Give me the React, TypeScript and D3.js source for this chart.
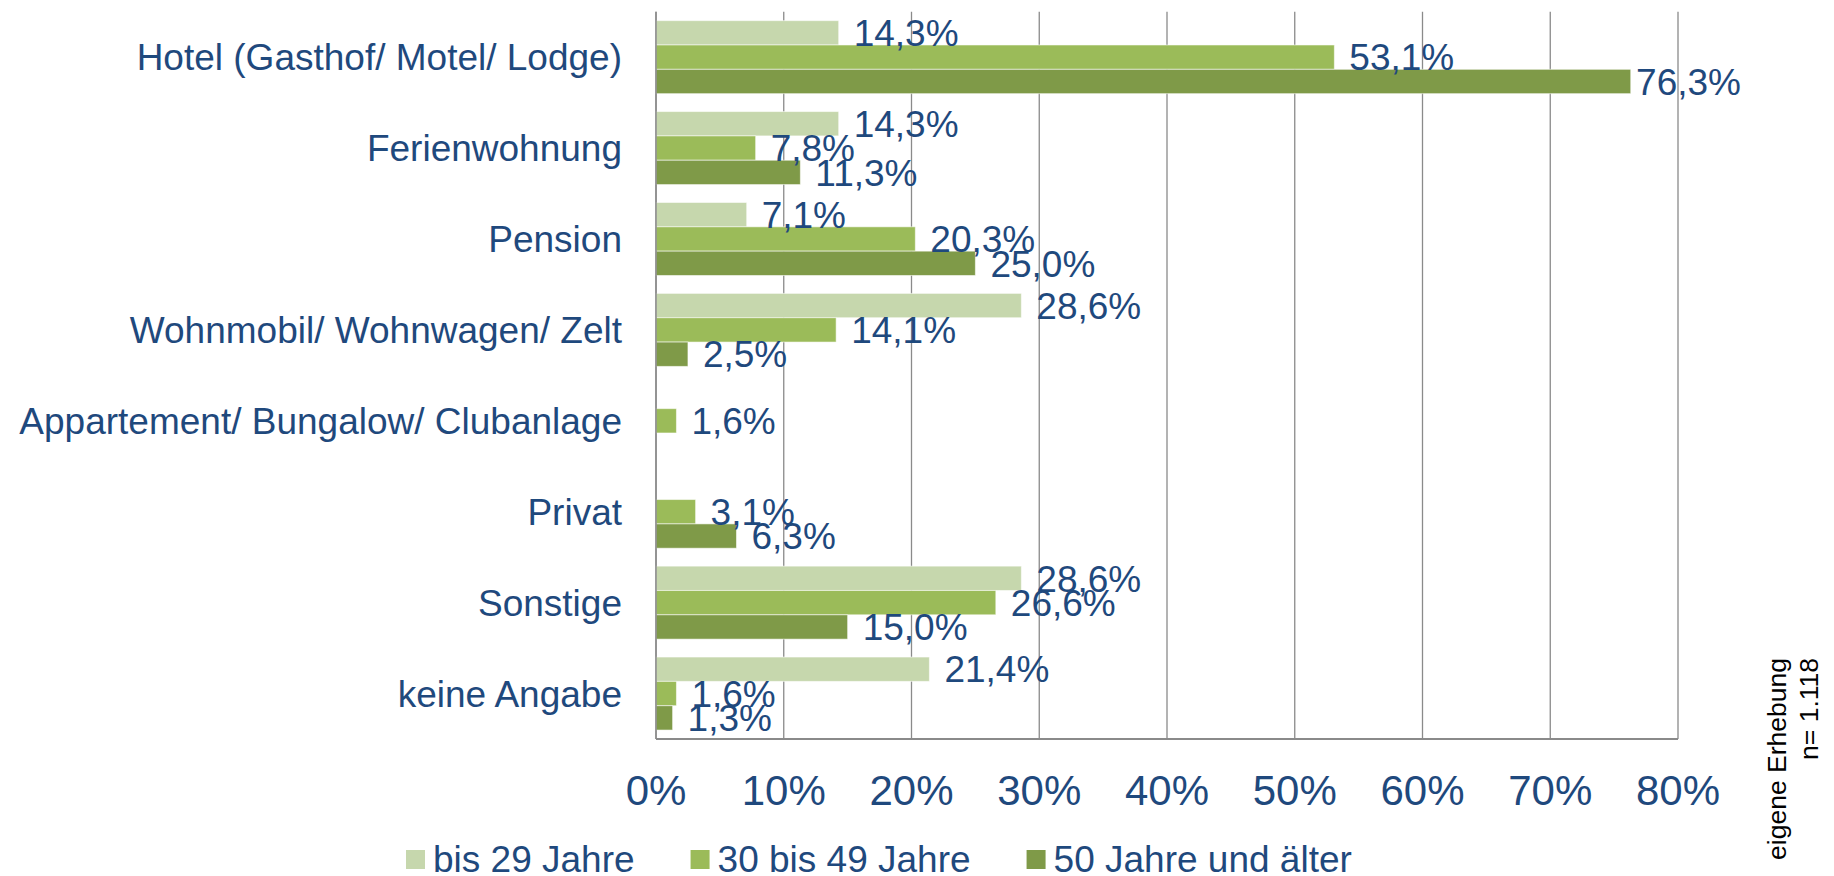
import React from "react";
import * as d3 from "d3";

const categories = [
  "Hotel (Gasthof/ Motel/ Lodge)",
  "Ferienwohnung",
  "Pension",
  "Wohnmobil/ Wohnwagen/ Zelt",
  "Appartement/ Bungalow/ Clubanlage",
  "Privat",
  "Sonstige",
  "keine Angabe",
];
const seriesNames = ["bis 29 Jahre", "30 bis 49 Jahre", "50 Jahre und älter"];
const bis29 = [14.3, 14.3, 7.1, 28.6, 0, 0, 28.6, 21.4];
const mid3049 = [53.1, 7.8, 20.3, 14.1, 1.6, 3.1, 26.6, 1.6];
const ab50 = [76.3, 11.3, 25.0, 2.5, 0, 6.3, 15.0, 1.3];
const xTicks = [0, 10, 20, 30, 40, 50, 60, 70, 80];
const noteLines = ["eigene Erhebung", "n= 1.118"];

const seriesValues = [bis29, mid3049, ab50];
const colors = ["#C6D7AD", "#9BBB59", "#7F9A48"];
const textColor = "#1F497D";
const gridColor = "#8A8A8A";
const FONT = "'Liberation Sans', Arial, Helvetica, sans-serif";

const W = 1834;
const H = 876;
const plot = { left: 656, right: 1678, top: 11.7, bottom: 739 };
const chartRight = 1741;

let _ctx: CanvasRenderingContext2D | null = null;
function measure(text: string, size: number): number {
  if (!_ctx) {
    const c = document.createElement("canvas");
    _ctx = c.getContext("2d");
  }
  if (!_ctx) return text.length * size * 0.55;
  _ctx.font = `${size}px 'Liberation Sans', Arial, sans-serif`;
  return _ctx.measureText(text).width;
}

const fmt = (v: number) => v.toFixed(1).replace(".", ",") + "%";

export default function App() {
  const x = d3.scaleLinear().domain([0, 80]).range([plot.left, plot.right]);
  const y = d3.scaleBand<string>().domain(categories).range([plot.top, plot.bottom]).padding(0);
  const inner = d3
    .scaleBand<number>()
    .domain([0, 1, 2])
    .range([0, y.bandwidth()])
    .paddingInner(0)
    .paddingOuter(0.368);

  const labelSize = 37;
  const catSize = 37;
  const tickSize = 42;
  const legendSize = 37;
  const noteSize = 26.5;

  // legend layout
  const legendStart = 406;
  const sq = 19;
  const legendItems: { sx: number; tx: number; name: string; color: string }[] = [];
  let cx = legendStart;
  seriesNames.forEach((name, i) => {
    legendItems.push({ sx: cx, tx: cx + 27, name, color: colors[i] });
    cx = cx + 27 + measure(name, legendSize) + 56;
  });

  return (
    <svg
      width={W}
      height={H}
      style={{ position: "absolute", left: 0, top: 0, background: "#fff" }}
      fontFamily={FONT}
    >
      <rect x={0} y={0} width={W} height={H} fill="#fff" />
      {/* gridlines */}
      {xTicks.map((t) => (
        <line
          key={"g" + t}
          x1={x(t)}
          x2={x(t)}
          y1={plot.top}
          y2={plot.bottom}
          stroke={gridColor}
          strokeWidth={1.3}
        />
      ))}
      {/* bars */}
      {categories.map((c, ci) =>
        seriesValues.map((vals, si) => {
          const v = vals[ci];
          if (!v) return null;
          const y0 = (y(c) as number) + (inner(si) as number);
          return (
            <rect
              key={`b${ci}-${si}`}
              x={x(0)}
              y={y0}
              width={x(v) - x(0)}
              height={inner.bandwidth()}
              fill={colors[si]}
              stroke="#ffffff"
              strokeOpacity={0.55}
              strokeWidth={1}
            />
          );
        })
      )}
      {/* axes */}
      <line x1={plot.left} x2={plot.left} y1={plot.top} y2={plot.bottom} stroke={gridColor} strokeWidth={1.5} />
      <line x1={plot.left} x2={plot.right} y1={plot.bottom} y2={plot.bottom} stroke={gridColor} strokeWidth={2} />
      {/* data labels */}
      {categories.map((c, ci) =>
        seriesValues.map((vals, si) => {
          const v = vals[ci];
          if (!v) return null;
          const label = fmt(v);
          const w = measure(label, labelSize);
          const lx = Math.min(x(v) + 15, chartRight - w);
          const cy = (y(c) as number) + (inner(si) as number) + inner.bandwidth() / 2;
          return (
            <text
              key={`l${ci}-${si}`}
              x={lx}
              y={cy + labelSize * 0.358}
              fontSize={labelSize}
              fill={textColor}
            >
              {label}
            </text>
          );
        })
      )}
      {/* category labels */}
      {categories.map((c) => (
        <text
          key={"c" + c}
          x={622}
          y={(y(c) as number) + y.bandwidth() / 2 + catSize * 0.358}
          fontSize={catSize}
          fill={textColor}
          textAnchor="end"
        >
          {c}
        </text>
      ))}
      {/* x tick labels */}
      {xTicks.map((t) => (
        <text
          key={"t" + t}
          x={x(t)}
          y={805}
          fontSize={tickSize}
          fill={textColor}
          textAnchor="middle"
        >
          {t + "%"}
        </text>
      ))}
      {/* legend */}
      {legendItems.map((it) => (
        <g key={"lg" + it.name}>
          <rect x={it.sx} y={850} width={sq} height={sq} fill={it.color} />
          <text x={it.tx} y={871.5} fontSize={legendSize} fill={textColor}>
            {it.name}
          </text>
        </g>
      ))}
      {/* note */}
      {noteLines.map((line, i) => (
        <text
          key={"n" + i}
          transform={`translate(${1786 + i * 32},658) rotate(-90)`}
          textAnchor="end"
          fontSize={noteSize}
          fill="#000"
        >
          {line}
        </text>
      ))}
    </svg>
  );
}
